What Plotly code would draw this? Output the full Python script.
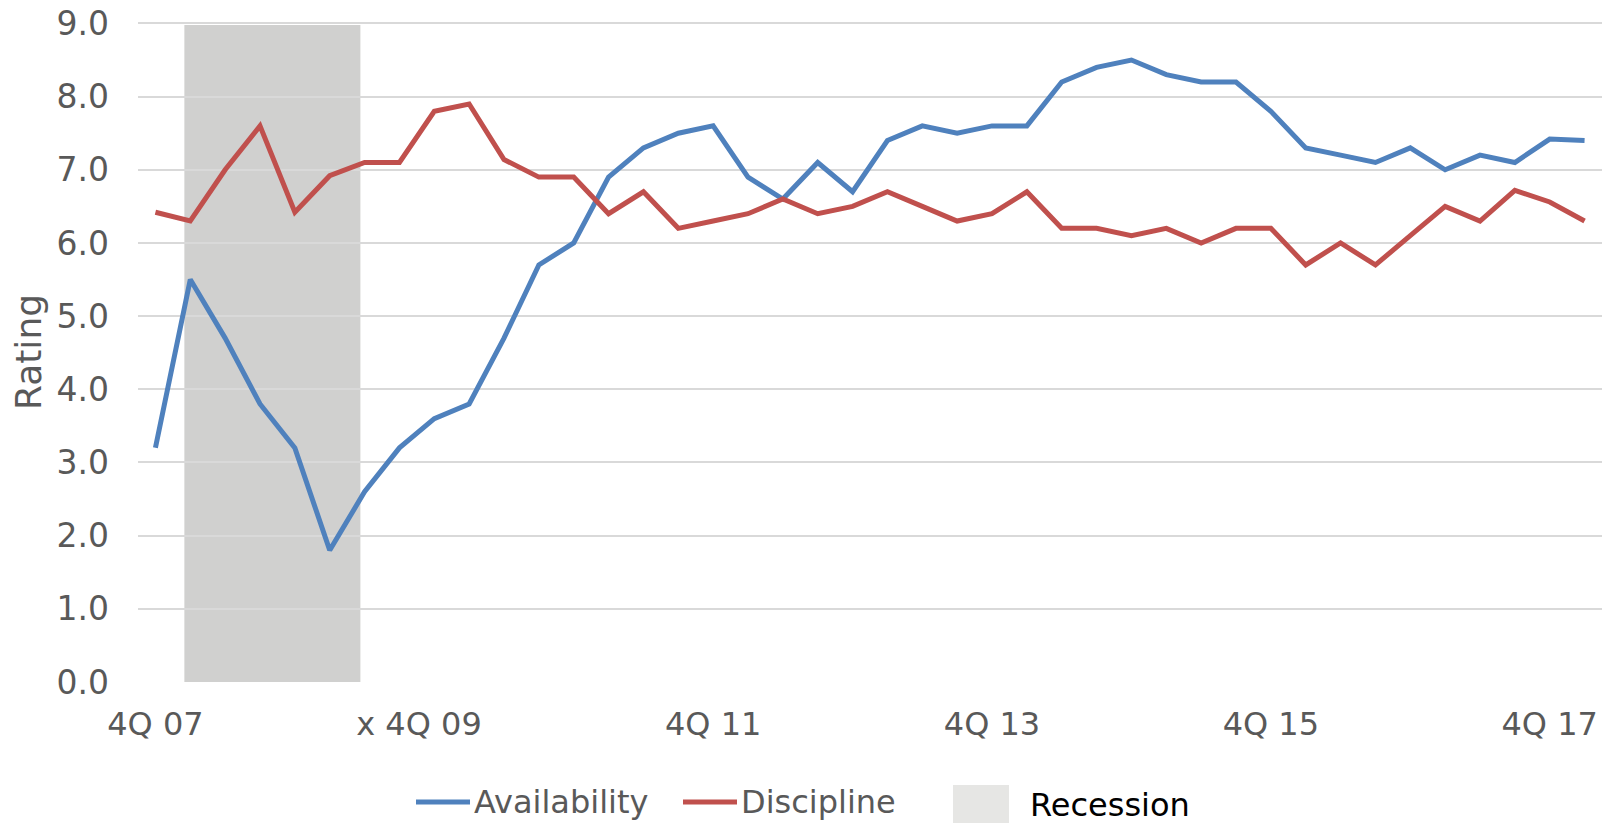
import plotly.graph_objects as go

quarters = ["4Q 07", "1Q 08", "2Q 08", "3Q 08", "4Q 08", "1Q 09", "2Q 09", "3Q 09",
            "4Q 09", "1Q 10", "2Q 10", "3Q 10", "4Q 10", "1Q 11", "2Q 11", "3Q 11",
            "4Q 11", "1Q 12", "2Q 12", "3Q 12", "4Q 12", "1Q 13", "2Q 13", "3Q 13",
            "4Q 13", "1Q 14", "2Q 14", "3Q 14", "4Q 14", "1Q 15", "2Q 15", "3Q 15",
            "4Q 15", "1Q 16", "2Q 16", "3Q 16", "4Q 16", "1Q 17", "2Q 17", "3Q 17",
            "4Q 17", "1Q 18"]

availability = [3.2, 5.5, 4.7, 3.8, 3.2, 1.8, 2.6, 3.2, 3.6, 3.8, 4.7, 5.7, 6.0, 6.9,
                7.3, 7.5, 7.6, 6.9, 6.6, 7.1, 6.7, 7.4, 7.6, 7.5, 7.6, 7.6, 8.2, 8.4,
                8.5, 8.3, 8.2, 8.2, 7.8, 7.3, 7.2, 7.1, 7.3, 7.0, 7.2, 7.1, 7.42, 7.4]

discipline = [6.42, 6.3, 7.0, 7.6, 6.42, 6.92, 7.1, 7.1, 7.8, 7.9, 7.14, 6.9, 6.9, 6.4,
              6.7, 6.2, 6.3, 6.4, 6.6, 6.4, 6.5, 6.7, 6.5, 6.3, 6.4, 6.7, 6.2, 6.2,
              6.1, 6.2, 6.0, 6.2, 6.2, 5.7, 6.0, 5.7, 6.1, 6.5, 6.3, 6.72, 6.56, 6.3]

tick_quarters = ["4Q 07", "4Q 09", "4Q 11", "4Q 13", "4Q 15", "4Q 17"]
tick_labels = ["4Q 07", "x 4Q 09\u00a0\u00a0\u00a0", "4Q 11", "4Q 13", "4Q 15", "4Q 17"]
rating_ticks = [0, 1, 2, 3, 4, 5, 6, 7, 8, 9]

# recession band in category-index units
recession_start = 0.83
recession_end = 5.88
recession_top = 8.98

BLUE = "#4F81BD"
RED = "#C0504D"
GRID = "#D9D9D9"
TXT = "#595959"
FONT = "DejaVu Sans"

# figure geometry (body margin removed via post_script)
W, H = 1610, 823
ML, MR, MT, MB = 138, 8, 22, 141
PW, PH = W - ML - MR, H - MT - MB

fig = go.Figure()
fig.add_trace(go.Scatter(x=quarters, y=availability, mode="lines", name="Availability",
                         line=dict(color=BLUE, width=5)))
fig.add_trace(go.Scatter(x=quarters, y=discipline, mode="lines", name="Discipline",
                         line=dict(color=RED, width=5)))

fig.add_shape(type="rect", xref="x", yref="y", x0=recession_start, x1=recession_end,
              y0=0, y1=recession_top, fillcolor="#D0D0CF", line=dict(width=0), layer="below")

fig.update_layout(
    width=W, height=H,
    margin=dict(l=ML, r=MR, t=MT, b=MB),
    paper_bgcolor="white", plot_bgcolor="white",
    showlegend=False,
    font=dict(family=FONT, color=TXT, size=32),
)
fig.update_xaxes(type="category", categoryorder="array", categoryarray=quarters,
                 range=[-0.5, len(quarters) - 0.5],
                 tickmode="array", tickvals=tick_quarters, ticktext=tick_labels,
                 showgrid=False, showline=False, zeroline=False, ticks="",
                 tickfont=dict(family=FONT, size=32, color=TXT),
                 ticklabelstandoff=20, ticklabeloverflow="allow", automargin=False)
fig.update_yaxes(range=[0, 9.02], tickmode="array", tickvals=rating_ticks,
                 tickformat=".1f",
                 showgrid=True, gridcolor=GRID, gridwidth=2,
                 zeroline=False, showline=False, ticks="",
                 tickfont=dict(family=FONT, size=33, color=TXT),
                 ticklabelstandoff=28, ticklabeloverflow="allow", automargin=False,
                 title=dict(text="Rating", font=dict(family=FONT, size=36, color=TXT), standoff=3))


def px_x(p):
    return (p - ML) / PW


def px_y(p):
    return (H - MB - p) / PH


legend_items = [
    (BLUE, 416, 470, "Availability"),
    (RED, 683, 737, "Discipline"),
]
for col, x0, x1, label in legend_items:
    fig.add_shape(type="line", xref="paper", yref="paper",
                  x0=px_x(x0), x1=px_x(x1), y0=px_y(802), y1=px_y(802),
                  line=dict(color=col, width=5))
    fig.add_annotation(xref="paper", yref="paper", x=px_x(x1 + 2), y=px_y(802),
                       text=label, showarrow=False, xanchor="left", yanchor="middle",
                       font=dict(family=FONT, size=32, color=TXT))

fig.add_shape(type="rect", xref="paper", yref="paper",
              x0=px_x(953), x1=px_x(1009), y0=px_y(823), y1=px_y(785),
              fillcolor="#E6E6E4", line=dict(width=0))
fig.add_annotation(xref="paper", yref="paper", x=px_x(1028), y=px_y(805),
                   text="Recession", showarrow=False, xanchor="left", yanchor="middle",
                   font=dict(family=FONT, size=32, color="#000000"))

fig.write_html("out.html", config={"displayModeBar": False},
               post_script="document.body.style.margin='0';document.body.style.overflow='hidden';")
